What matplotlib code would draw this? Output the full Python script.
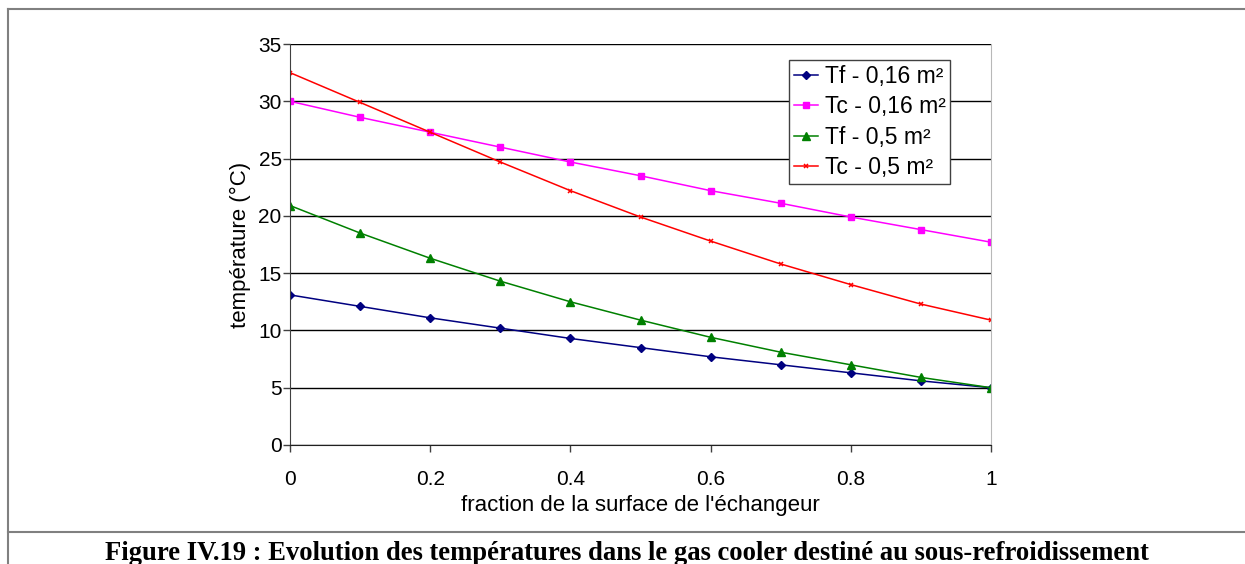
import matplotlib
matplotlib.use("Agg")
import matplotlib.pyplot as plt
from matplotlib.lines import Line2D

plt.rcParams['font.family'] = ['Liberation Sans', 'DejaVu Sans']

fraction = [0, 0.1, 0.2, 0.3, 0.4, 0.5, 0.6, 0.7, 0.8, 0.9, 1.0]
tf_016 = [13.1, 12.1, 11.1, 10.2, 9.3, 8.5, 7.7, 7.0, 6.3, 5.6, 5.0]
tc_016 = [30.0, 28.6, 27.3, 26.0, 24.7, 23.5, 22.2, 21.1, 19.9, 18.8, 17.7]
tf_05 = [20.9, 18.5, 16.3, 14.3, 12.5, 10.9, 9.4, 8.1, 7.0, 5.9, 5.0]
tc_05 = [32.5, 29.9, 27.3, 24.7, 22.2, 19.9, 17.8, 15.8, 14.0, 12.3, 10.9]
labels = ["Tf - 0,16 m²", "Tc - 0,16 m²", "Tf - 0,5 m²", "Tc - 0,5 m²"]
xticks = [0, 0.2, 0.4, 0.6, 0.8, 1]
xticklabels = ["0", "0.2", "0.4", "0.6", "0.8", "1"]
yticks = [0, 5, 10, 15, 20, 25, 30, 35]

W, H = 1245, 564
fig = plt.figure(figsize=(W / 100, H / 100), dpi=100)
ax = fig.add_axes([290 / W, 1 - 445 / H, (991 - 290) / W, (445 - 44) / H])

ax.plot(fraction, tf_016, color='#000080', marker='D', markersize=4, lw=1.1, label=labels[0])
ax.plot(fraction, tc_016, color='#FF00FF', marker='s', markersize=5, lw=1.1, label=labels[1])
ax.plot(fraction, tf_05, color='#008000', marker='^', markersize=5.5, lw=1.1, label=labels[2])
ax.plot(fraction, tc_05, color='#FF0000', marker='x', markersize=3.5, mew=1.1, lw=1.1, label=labels[3])

ax.set_xlim(0, 1)
ax.set_ylim(0, 35)
ax.set_xticks(xticks)
ax.set_xticklabels(xticklabels)
ax.set_yticks(yticks)
ax.yaxis.grid(True, color='black', lw=1.0)
ax.set_axisbelow(True)
ax.spines['top'].set_visible(False)
ax.spines['right'].set_color('#b8b8b8')
ax.spines['left'].set_color('#404040')
ax.spines['bottom'].set_color('#202020')
ax.tick_params(axis='both', direction='out', length=5, width=1, color='#404040', labelsize=15)
ax.tick_params(axis='y', pad=1)
ax.tick_params(axis='x', pad=13)

ax.set_xlabel("fraction de la surface de l'échangeur", fontsize=16, va='center')
ax.xaxis.set_label_coords(0.5, -(505 - 445) / (445 - 44))
ax.set_ylabel("température (°C)", fontsize=16, va='center')
ax.yaxis.set_label_coords((240 - 290) / (991 - 290), 0.5)

leg = ax.legend(loc='upper left', bbox_to_anchor=((789 - 290) / (991 - 290), 1 - (60 - 44) / (445 - 44)),
                fontsize=16.5, frameon=True, fancybox=False, framealpha=1, edgecolor='#404040',
                borderpad=0.2, labelspacing=0.33, handlelength=1.05, handletextpad=0.3, borderaxespad=0)
leg.get_frame().set_linewidth(1.0)

gray = '#808080'
fig.add_artist(Line2D([8 / W, 1], [1 - 9 / H, 1 - 9 / H], color=gray, lw=1.5))
fig.add_artist(Line2D([8 / W, 8 / W], [1 - 9 / H, 0], color=gray, lw=1.5))
fig.add_artist(Line2D([8 / W, 1], [1 - 532 / H, 1 - 532 / H], color=gray, lw=1.5))

fig.text(627 / W, 1 - 560 / H, "Figure IV.19 : Evolution des températures dans le gas cooler destiné au sous-refroidissement",
         ha='center', va='baseline', fontsize=19.2, fontweight='bold', family=['Liberation Serif', 'DejaVu Serif'])

fig.savefig("out.png", dpi=100)
